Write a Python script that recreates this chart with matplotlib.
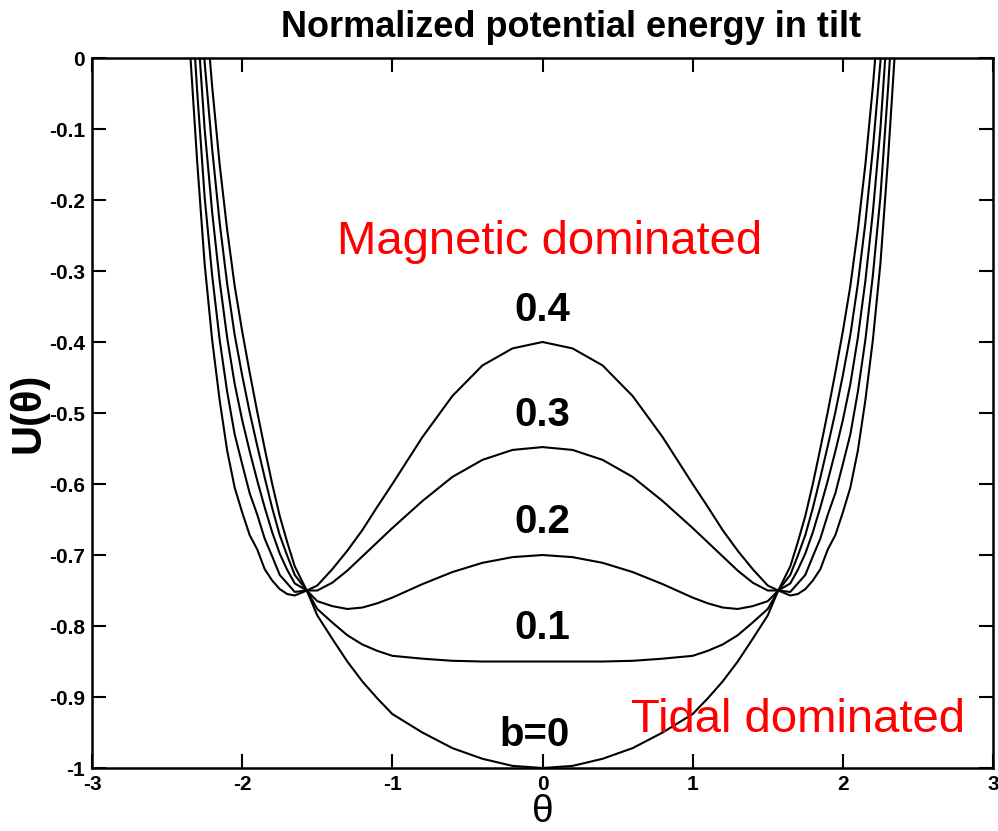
import matplotlib
matplotlib.use("Agg")
import matplotlib.pyplot as plt
import numpy as np

# tilt angle (theta >= 0 half, curves are symmetric about 0)
theta_half = [0.0, 0.2, 0.4, 0.6, 0.8, 1.0, 1.1, 1.2, 1.3, 1.4, 1.5, 1.57,
              1.65, 1.7, 1.75, 1.8, 1.85, 1.9, 1.95, 2.0, 2.05, 2.1, 2.15, 2.2,
              2.25, 2.3, 2.35, 2.4]

# U(theta), one list per b
u_b0 = [-1.0, -0.997, -0.987, -0.972, -0.95, -0.924, -0.902, -0.878, -0.85, -0.818, -0.785, -0.75,
        -0.716, -0.682, -0.645, -0.6, -0.55, -0.498, -0.443, -0.385, -0.321, -0.242, -0.15, -0.04,
        0.088, 0.255, 0.44, 0.66]
u_b01 = [-0.85, -0.85, -0.85, -0.849, -0.846, -0.842, -0.835, -0.826, -0.813, -0.795, -0.776, -0.75,
         -0.728, -0.701, -0.672, -0.634, -0.591, -0.546, -0.499, -0.447, -0.39, -0.318, -0.232, -0.128,
         -0.006, 0.155, 0.335, 0.549]
u_b02 = [-0.7, -0.703, -0.711, -0.724, -0.741, -0.76, -0.768, -0.774, -0.776, -0.772, -0.765, -0.75,
         -0.74, -0.721, -0.698, -0.668, -0.633, -0.595, -0.554, -0.51, -0.459, -0.394, -0.314, -0.217,
         -0.1, 0.055, 0.229, 0.439]
u_b03 = [-0.548, -0.552, -0.566, -0.59, -0.624, -0.662, -0.682, -0.702, -0.722, -0.739, -0.75, -0.75,
         -0.752, -0.74, -0.728, -0.702, -0.677, -0.643, -0.613, -0.572, -0.53, -0.47, -0.397, -0.306,
         -0.196, -0.046, 0.124, 0.328]
u_b04 = [-0.4, -0.409, -0.433, -0.476, -0.534, -0.6, -0.632, -0.665, -0.694, -0.72, -0.743, -0.75,
         -0.757, -0.755, -0.748, -0.736, -0.72, -0.692, -0.672, -0.64, -0.605, -0.553, -0.482, -0.397,
         -0.29, -0.145, 0.019, 0.218]

curves = [u_b0, u_b01, u_b02, u_b03, u_b04]
curve_labels = ["b=0", "0.1", "0.2", "0.3", "0.4"]
label_pos = [(-0.05, -0.954), (0.0, -0.803), (0.0, -0.654), (0.0, -0.503), (0.0, -0.355)]

xticks = [-3, -2, -1, 0, 1, 2, 3]
yticks = [0, -0.1, -0.2, -0.3, -0.4, -0.5, -0.6, -0.7, -0.8, -0.9, -1]
ytick_labels = ["0", "-0.1", "-0.2", "-0.3", "-0.4", "-0.5", "-0.6", "-0.7", "-0.8", "-0.9", "-1"]

plt.rcParams['font.family'] = ['Liberation Sans', 'DejaVu Sans']

fig = plt.figure(figsize=(9.98, 8.31), dpi=100)
ax = fig.add_axes([0.0922, 0.0758, 0.9028, 0.8544])

th = np.array(theta_half)
theta_full = np.concatenate([-th[::-1], th[1:]])
for u in curves:
    u = np.array(u)
    u_full = np.concatenate([u[::-1], u[1:]])
    ax.plot(theta_full, u_full, color='black', lw=1.5)

for txt, (x, y) in zip(curve_labels, label_pos):
    ax.text(x, y, txt, ha='center', va='center', fontsize=29, fontweight='bold')

ax.text(0.05, -0.259, "Magnetic dominated", color='red', ha='center', va='center', fontsize=34)
ax.text(1.70, -0.932, "Tidal dominated", color='red', ha='center', va='center', fontsize=34)

ax.set_xlim(-3, 3)
ax.set_ylim(-1, 0)
ax.set_xticks(xticks)
ax.set_xticklabels([str(v) for v in xticks])
ax.set_yticks(yticks)
ax.set_yticklabels(ytick_labels)
ax.tick_params(direction='in', length=10, width=1.5, top=True, right=True,
               labelsize=15, pad=5)
for lab in ax.get_xticklabels() + ax.get_yticklabels():
    lab.set_fontweight('bold')
for sp in ax.spines.values():
    sp.set_linewidth(1.8)

ax.set_xlabel("θ", fontsize=28, labelpad=0)
ax.set_ylabel("U(θ)", fontsize=30, fontweight='bold', labelpad=0)
fig.text(0.572, 0.967, "Normalized potential energy in tilt", ha='center', va='center',
         fontsize=26, fontweight='bold')

fig.savefig("out.png", dpi=100)
